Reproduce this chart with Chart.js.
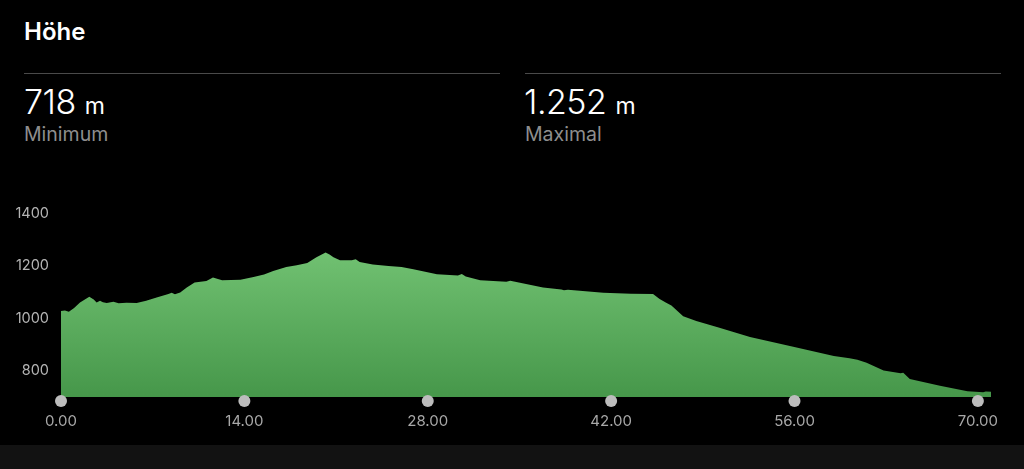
<!DOCTYPE html>
<html>
<head>
<meta charset="utf-8">
<script src="https://cdn.jsdelivr.net/npm/chart.js@4"></script>
<style>
  html, body { margin: 0; padding: 0; background: #000; width: 1024px; height: 469px; overflow: hidden; font-family: Inter, "Noto Sans", sans-serif; }
  .titel { position: absolute; left: 24px; top: 17px; color: #fff; font-size: 24px; font-weight: 600; }
  .linie { position: absolute; top: 73px; height: 1px; background: #4a4a4a; }
  .wert { position: absolute; top: 81px; color: #fff; font-size: 34px; font-weight: 300; letter-spacing: -0.5px; }
  .wert span { font-size: 23px; font-weight: 400; margin-left: 9px; letter-spacing: 0; }
  .label { position: absolute; top: 122px; color: #8e8e8e; font-size: 19.5px; }
  #box { position: absolute; left: 0; top: 193px; width: 1024px; height: 252px; }
  .unten { position: absolute; left: 0; top: 445px; width: 1024px; height: 24px; background: #121212; }
</style>
</head>
<body>
<div class="titel">Höhe</div>
<div class="linie" style="left:24px;width:476px"></div>
<div class="linie" style="left:525px;width:476px"></div>
<div class="wert" style="left:24px">718<span>m</span></div>
<div class="label" style="left:24px">Minimum</div>
<div class="wert" style="left:524px">1.252<span>m</span></div>
<div class="label" style="left:525px">Maximal</div>
<div class="unten"></div>
<div id="box"><canvas id="grafico"></canvas></div>
<script>
// Distanz (km) und Höhe (m)
const distanz = [
  0, 0.3, 0.6, 1.0, 1.45, 2.16, 2.5, 2.72, 2.98, 3.2,
  3.49, 4.0, 4.4, 5.0, 5.78, 6.5, 7.3, 8.2, 8.45, 8.7,
  9.1, 9.6, 10.2, 11.1, 11.6, 12.3, 13.0, 13.7, 14.7, 15.5,
  16.2, 17.2, 18.0, 18.8, 19.5, 20.2, 20.5, 20.8, 21.3, 22.2,
  22.5, 22.8, 23.8, 25.0, 26.0, 26.9, 28.7, 30.3, 30.6, 30.9,
  32.0, 34.0, 34.3, 36.8, 38.2, 38.4, 38.7, 41.4, 43.5, 45.2,
  45.7, 46.2, 46.6, 47.5, 48.5, 50.2, 52.6, 55.9, 59.0, 60.2,
  60.8, 61.5, 62.8, 64.1, 64.3, 64.8, 67.1, 69.2, 70.4, 70.6,
  71.0
];
const hoehe = [
  1028, 1030, 1026, 1040, 1061, 1083, 1072, 1061, 1068, 1062,
  1059, 1064, 1058, 1060, 1059, 1068, 1080, 1093, 1098, 1092,
  1099, 1118, 1137, 1143, 1156, 1146, 1147, 1148, 1158, 1168,
  1181, 1196, 1203, 1212, 1234, 1252, 1244, 1234, 1222, 1222,
  1226, 1216, 1206, 1200, 1196, 1188, 1169, 1164, 1170, 1160,
  1146, 1140, 1144, 1118, 1111, 1108, 1110, 1098, 1094, 1093,
  1074, 1060, 1049, 1008, 990, 965, 929, 892, 857, 848,
  842, 831, 801, 791, 793, 769, 743, 722, 718, 721,
  720
];
const xTicks = [0, 14, 28, 42, 56, 70];
const yTicks = [800, 1000, 1200, 1400];

// graue Punkte unter den x-Ticks
const punkte = {
  id: 'punkte',
  afterDraw(chart) {
    const ctx = chart.ctx;
    const x = chart.scales.x;
    ctx.save();
    ctx.fillStyle = '#bdbdbd';
    x.ticks.forEach(t => {
      ctx.beginPath();
      ctx.arc(x.getPixelForValue(t.value), chart.chartArea.bottom + 4, 6, 0, Math.PI * 2);
      ctx.fill();
    });
    ctx.restore();
  }
};

new Chart(document.getElementById('grafico'), {
  type: 'line',
  data: {
    datasets: [{
      data: distanz.map((d, i) => ({ x: d, y: hoehe[i] })),
      borderWidth: 0,
      pointRadius: 0,
      tension: 0,
      fill: 'start',
      backgroundColor: function(context) {
        const area = context.chart.chartArea;
        if (!area) return '#5fb362';
        const g = context.chart.ctx.createLinearGradient(0, area.top, 0, area.bottom);
        g.addColorStop(0, '#7ccc7c');
        g.addColorStop(1, '#46974a');
        return g;
      }
    }]
  },
  options: {
    responsive: true,
    maintainAspectRatio: false,
    animation: false,
    layout: { padding: { top: 15, right: 33, bottom: 0, left: 0 } },
    plugins: { legend: { display: false }, tooltip: { enabled: false } },
    scales: {
      x: {
        type: 'linear',
        min: 0,
        max: 71.0,
        grid: { display: false, drawTicks: false },
        border: { display: false },
        afterBuildTicks: s => { s.ticks = xTicks.map(v => ({ value: v })); },
        ticks: {
          padding: 15,
          color: '#a8a8a8',
          font: { family: 'Inter', size: 15 },
          maxRotation: 0,
          callback: v => Number(v).toFixed(2)
        }
      },
      y: {
        min: 700,
        max: 1400,
        grid: { display: false, drawTicks: false },
        border: { display: false },
        afterBuildTicks: s => { s.ticks = yTicks.map(v => ({ value: v })); },
        afterFit: s => { s.width = 61; },
        ticks: {
          padding: 12,
          color: '#b4b4b4',
          font: { family: 'Inter', size: 14.5 },
          callback: v => String(v)
        }
      }
    }
  },
  plugins: [punkte]
});
</script>
</body>
</html>
